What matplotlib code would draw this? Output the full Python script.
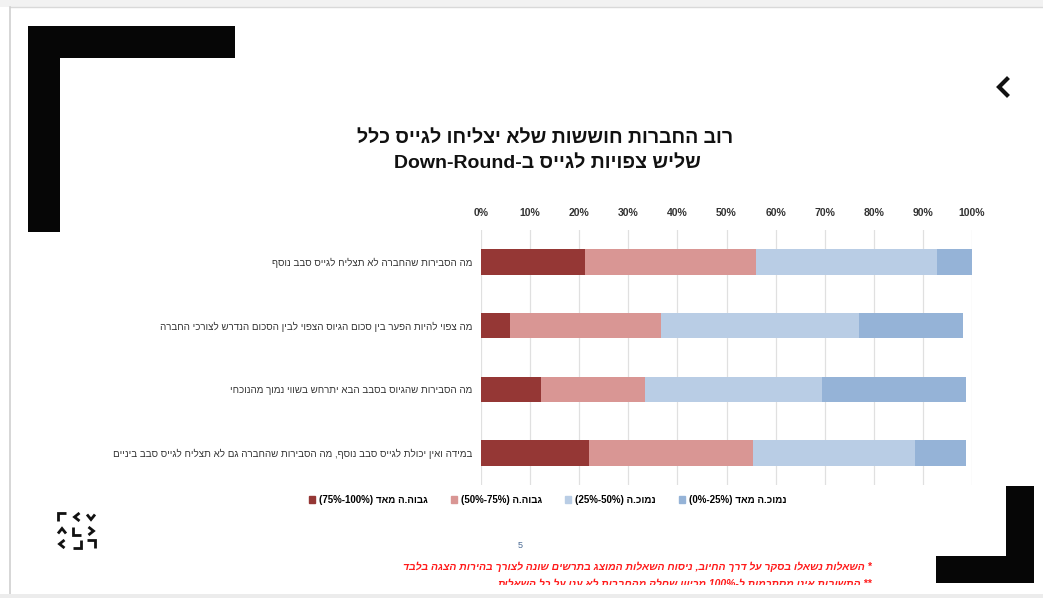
import re
import matplotlib
matplotlib.use('Agg')
import matplotlib.pyplot as plt
from matplotlib.patches import Rectangle, Patch

plt.rcParams['font.family'] = ['Liberation Sans', 'DejaVu Sans']

# data (percent of companies)
questions = [
    'מה הסבירות שהחברה לא תצליח לגייס סבב נוסף',
    'מה צפוי להיות הפער בין סכום הגיוס הצפוי לבין הסכום הנדרש לצורכי החברה',
    'מה הסבירות שהגיוס בסבב הבא יתרחש בשווי נמוך מהנוכחי',
    'במידה ואין יכולת לגייס סבב נוסף, מה הסבירות שהחברה גם לא תצליח לגייס סבב ביניים',
]
high_very = [21.2, 5.9, 12.2, 22.0]
high = [34.8, 30.8, 21.1, 33.3]
low = [36.9, 40.3, 36.1, 33.0]
low_very = [7.1, 21.2, 29.3, 10.4]

series_names = ['גבוה.ה מאד (75%-100%)', 'גבוה.ה (50%-75%)',
                'נמוכ.ה (25%-50%)', 'נמוכ.ה מאד (0%-25%)']
colors = ['#953735', '#D99694', '#B9CDE5', '#95B3D7']

title1 = 'רוב החברות חוששות שלא יצליחו לגייס כלל'
title2 = 'שליש צפויות לגייס ב-Down-Round'
note1 = '* השאלות נשאלו בסקר על דרך החיוב, ניסוח השאלות המוצג בתרשים שונה לצורך בהירות הצגה בלבד'
note2 = '** התשובות אינן מסתכמות ל-100% מכיוון שחלק מהחברות לא ענו על כל השאלות'


def vis(s):
    # crude right-to-left reordering for display
    r = s[::-1]
    r = r.translate(str.maketrans('()', ')('))
    return re.sub(r'[A-Za-z0-9%][A-Za-z0-9%\-]*[A-Za-z0-9%]', lambda m: m.group(0)[::-1], r)


W, H = 1043, 598
fig = plt.figure(figsize=(W / 100, H / 100), dpi=100)

# background layer in pixel coordinates
bg = fig.add_axes([0, 0, 1, 1], zorder=0)
bg.set_xlim(0, W)
bg.set_ylim(H, 0)
bg.axis('off')

bg.add_patch(Rectangle((0, 0), W, 7, color='#f2f2f2', lw=0))
bg.plot([10, W], [7, 7], color='#d9d9d9', lw=1)
bg.plot([10, 10], [7, 594], color='#d0d0d0', lw=1.2)

# black corner frames
bg.add_patch(Rectangle((28, 26), 207, 32, color='#060606', lw=0))
bg.add_patch(Rectangle((28, 26), 32, 206, color='#060606', lw=0))
bg.add_patch(Rectangle((1006, 486), 28, 97, color='#060606', lw=0))
bg.add_patch(Rectangle((936, 556), 98, 27, color='#060606', lw=0))

# arrow top right
bg.plot([1007, 999, 1007], [79, 87, 95], color='#111111', lw=3, solid_joinstyle='miter')

# logo bottom left
s = 4
shapes = [
    [(-s, s), (-s, -s), (s, -s)], [(2.5, -s), (-2.5, 0), (2.5, s)], [(-s, -2.5), (0, 2.5), (s, -2.5)],
    [(-s, 2.5), (0, -2.5), (s, 2.5)], [(-s, -s), (-s, s), (s, s)], [(-2.5, -s), (2.5, 0), (-2.5, s)],
    [(2.5, -s), (-2.5, 0), (2.5, s)], [(-s, s), (s, s), (s, -s)], [(-s, -s), (s, -s), (s, s)],
]
for i, pts in enumerate(shapes):
    cx = [62, 77, 91][i % 3]
    cy = [517, 531, 544][i // 3]
    bg.plot([cx + p[0] for p in pts], [cy + p[1] for p in pts], color='#111111', lw=2,
            solid_joinstyle='miter', solid_capstyle='butt')

# titles
bg.text(545, 138, vis(title1), ha='center', va='center', fontsize=14, fontweight='bold', color='#111111')
bg.text(547, 163, vis(title2), ha='center', va='center', fontsize=14, fontweight='bold', color='#111111')

# page number and notes
bg.text(520, 545, '5', ha='center', va='center', fontsize=6.5, color='#4a6a94')
bg.text(872, 567, vis(note1), ha='right', va='center', fontsize=7.5, fontweight='bold',
        style='italic', color='#ff1a1a')
bg.text(872, 584, vis(note2), ha='right', va='center', fontsize=7.5, fontweight='bold',
        style='italic', color='#ff1a1a', zorder=2)
bg.add_patch(Rectangle((11, 585), 920, 9, color='white', lw=0, zorder=3))
bg.add_patch(Rectangle((0, 594), W, 4, color='#ececec', lw=0, zorder=3))

# chart
ax = fig.add_axes([481 / W, 1 - 485 / H, (972 - 481) / W, (485 - 230) / H], zorder=1)
ax.patch.set_alpha(0)
series = [high_very, high, low, low_very]
ypos = list(range(len(questions)))
left = [0] * len(questions)
for vals, name, c in zip(series, series_names, colors):
    ax.barh(ypos, vals, left=left, height=0.4, color=c, label=vis(name), zorder=2)
    left = [a + b for a, b in zip(left, vals)]

ax.set_xlim(0, 100)
ax.set_ylim(3.5, -0.5)
ax.set_xticks(range(0, 101, 10))
ax.set_xticklabels([f'{t}%' for t in range(0, 101, 10)], fontsize=7.5, fontweight='bold', color='#333333')
ax.xaxis.tick_top()
ax.tick_params(axis='x', length=0, pad=9)
ax.set_yticks(ypos)
ax.set_yticklabels([vis(q) for q in questions], fontsize=7, color='#333333')
ax.tick_params(axis='y', length=0, pad=6)
ax.grid(True, axis='x', color='#e0e0e0', linewidth=0.9, zorder=0)
for sp in ax.spines.values():
    sp.set_visible(False)

handles = [Patch(color=c) for c in colors]
fig.legend(handles, [vis(n) for n in series_names], ncol=4, loc='center',
           bbox_to_anchor=(548 / W, 1 - 500 / H), frameon=False,
           prop={'size': 7, 'weight': 'bold'}, handlelength=0.6, handleheight=0.6,
           handletextpad=0.4, columnspacing=2.4)

fig.savefig('out.png', dpi=100, facecolor='white')
